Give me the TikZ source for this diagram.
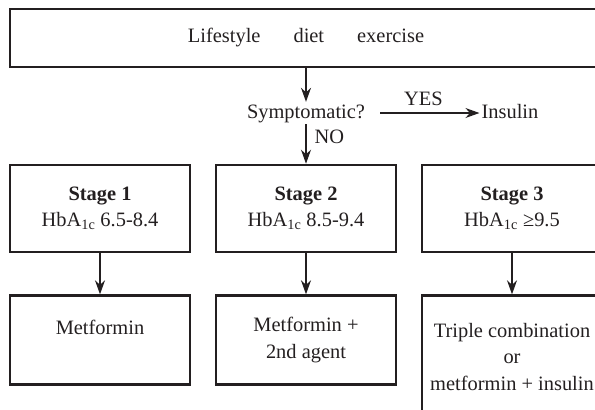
\documentclass[tikz,border=0pt]{standalone}
\usepackage{fontspec}
\setmainfont{Liberation Serif}
\usetikzlibrary{arrows.meta,positioning}
\definecolor{ink}{RGB}{35,31,32}
\tikzset{
  >={Stealth[length=14bp,width=10bp]},
  stagebox/.style={draw=ink,line width=2.6bp,minimum width=180bp,minimum height=#1,
    inner sep=0pt,align=center,text=ink,font=\fontsize{20.5}{26.5}\selectfont},
  stagebox/.default=87bp,
  flow/.style={->,line width=1.2bp,draw=ink},
  tag/.style={font=\fontsize{20.5}{26.5}\selectfont,text=ink,inner sep=2bp,
    text height=14bp,text depth=4bp},
}

\begin{document}
\begin{tikzpicture}[x=1bp,y=-1bp]
  \path[use as bounding box,clip] (0,0) rectangle (595,409);
  % top row
  \node[stagebox=58bp,minimum width=592bp] (top) at (306,38)
    {Lifestyle\hspace{33bp}diet\hspace{33bp}exercise};
  \node[tag] (sym) at (306,113) {Symptomatic?};
  \node[tag] (ins) at (510,113) {Insulin};
  \draw[flow] (top) -- (sym);
  \draw[flow,shorten <=13bp] (sym) -- node[tag,above=1bp] {YES} (ins);
  % stages and treatment
  \foreach \i/\x/\g/\r/\h in {
    1/100/6.5-8.4/Metformin\\~/89bp,
    2/306/8.5-9.4/Metformin +\\2nd agent/89bp,
    3/512/≥9.5/Triple combination\\or\\metformin + insulin/122bp}
  {
    \node[stagebox] (st\i) at (\x,208.5) {\textbf{Stage \i}\\HbA\textsubscript{1c} \g};
    \node[stagebox=\h,below=41bp of st\i] (rx\i) {\r};
    \draw[flow] (st\i) -- (rx\i);
  }
  \draw[flow] (sym) -- node[tag,right=6bp,pos=0.35] {NO} (st2);
\end{tikzpicture}
\end{document}
